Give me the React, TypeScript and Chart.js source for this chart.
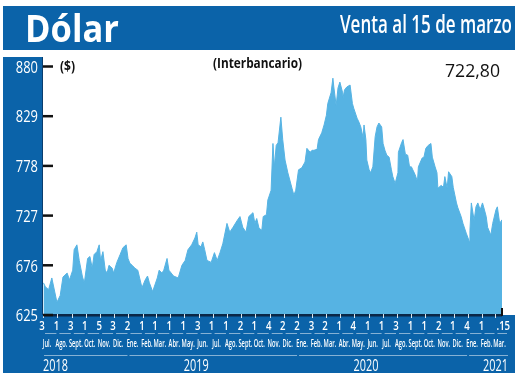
import { useEffect, useRef } from 'react';
import { Chart, registerables } from 'chart.js';

Chart.register(...registerables);

// ---------- data ----------
const dates: string[] = [
  '2018-07-02','2018-07-06','2018-07-13','2018-07-20','2018-07-31','2018-08-07','2018-08-13','2018-08-22','2018-08-27',
  '2018-09-03','2018-09-06','2018-09-12','2018-09-17','2018-09-24','2018-09-28','2018-10-05','2018-10-10','2018-10-15',
  '2018-10-19','2018-10-25','2018-10-30','2018-11-02','2018-11-07','2018-11-12','2018-11-16','2018-11-20','2018-11-27',
  '2018-11-30','2018-12-07','2018-12-14','2018-12-20','2018-12-27','2018-12-31','2019-01-04','2019-01-09','2019-01-15',
  '2019-01-21','2019-01-30','2019-02-06','2019-02-11','2019-02-15','2019-02-22','2019-03-04','2019-03-08','2019-03-14',
  '2019-03-18','2019-03-25','2019-03-29','2019-04-08','2019-04-18','2019-04-26','2019-05-03','2019-05-09','2019-05-17',
  '2019-05-24','2019-05-28','2019-05-31','2019-06-06','2019-06-10','2019-06-14','2019-06-19','2019-06-28','2019-07-05',
  '2019-07-11','2019-07-17','2019-07-23','2019-08-01','2019-08-07','2019-08-14','2019-08-23','2019-08-29','2019-09-04',
  '2019-09-11','2019-09-17','2019-09-26','2019-09-30','2019-10-04','2019-10-09','2019-10-15','2019-10-18','2019-10-25',
  '2019-10-28','2019-11-04','2019-11-08','2019-11-11','2019-11-15','2019-11-19','2019-11-25','2019-11-29','2019-12-04',
  '2019-12-10','2019-12-19','2019-12-23','2019-12-27','2020-01-02','2020-01-09','2020-01-16','2020-01-20','2020-01-27',
  '2020-01-31','2020-02-04','2020-02-11','2020-02-14','2020-02-21','2020-02-26','2020-03-02','2020-03-05','2020-03-12',
  '2020-03-16','2020-03-18','2020-03-23','2020-03-27','2020-03-31','2020-04-06','2020-04-07','2020-04-10','2020-04-15',
  '2020-04-22','2020-04-27','2020-04-30','2020-05-07','2020-05-11','2020-05-15','2020-05-20','2020-05-22','2020-05-26',
  '2020-05-28','2020-06-02','2020-06-05','2020-06-10','2020-06-15','2020-06-19','2020-06-23','2020-06-29','2020-07-02',
  '2020-07-06','2020-07-10','2020-07-15','2020-07-20','2020-07-23','2020-07-28','2020-08-03','2020-08-04','2020-08-11',
  '2020-08-14','2020-08-19','2020-08-24','2020-08-28','2020-09-01','2020-09-04','2020-09-09','2020-09-14','2020-09-16',
  '2020-09-24','2020-09-28','2020-10-02','2020-10-07','2020-10-13','2020-10-16','2020-10-22','2020-10-26','2020-10-28',
  '2020-11-04','2020-11-09','2020-11-12','2020-11-17','2020-11-20','2020-11-27','2020-11-30','2020-12-07','2020-12-10',
  '2020-12-17','2020-12-21','2020-12-28','2021-01-04','2021-01-05','2021-01-08','2021-01-14','2021-01-18','2021-01-22',
  '2021-01-27','2021-02-01','2021-02-04','2021-02-09','2021-02-12','2021-02-19','2021-02-23','2021-03-02','2021-03-05',
  '2021-03-10','2021-03-15',
];

const values: number[] = [
  658,654,651,663,638,645,664,668,661,
  671,692,697,681,664,658,683,685,673,
  687,690,697,681,690,671,668,676,673,
  668,679,687,694,697,683,678,676,673,
  671,653,661,665,658,649,663,671,668,
  671,683,671,665,663,676,681,692,697,
  704,710,697,695,700,692,681,679,689,
  681,689,698,719,710,715,722,726,715,
  710,726,730,719,724,714,712,726,728,
  743,753,801,777,799,802,828,805,784,
  771,755,748,753,774,776,782,796,792,
  794,794,795,805,812,820,830,842,853,
  868,859,840,858,864,853,848,856,859,
  861,842,837,827,823,818,807,820,805,
  784,774,771,777,808,818,822,818,801,
  794,789,787,774,767,760,771,792,802,
  805,790,789,777,777,774,769,762,777,
  786,787,796,799,801,787,777,771,755,
  758,756,767,755,772,767,756,740,735,
  726,719,709,700,712,740,722,736,740,
  733,740,735,726,715,707,719,733,736,
  719,722.8,
];

const yTicks: number[] = [625, 676, 727, 778, 829, 880];
const monthNames: string[] = [
  'Jul.','Ago.','Sept.','Oct.','Nov.','Dic.',
  'Ene.','Feb.','Mar.','Abr.','May.','Jun.','Jul.','Ago.','Sept.','Oct.','Nov.','Dic.',
  'Ene.','Feb.','Mar.','Abr.','May.','Jun.','Jul.','Ago.','Sept.','Oct.','Nov.','Dic.',
  'Ene.','Feb.','Mar.',
];
const dayLabels: string[] = [
  '3','1','3','1','5','3',
  '2','1','1','1','1','3','1','1','2','1','4','2',
  '2','3','2','1','4','1','1','3','1','1','2','1',
  '4','1','.15',
];
const years: string[] = ['2018', '2019', '2020', '2021'];

const titleText = 'Dólar';
const subtitleText = 'Venta al 15 de marzo';
const unitText = '($)';
const sourceText = '(Interbancario)';
const lastValueText = '722,80';

// ---------- helpers ----------
const START = Date.UTC(2018, 6, 1);
const END = Date.UTC(2021, 2, 15);
const DAY = 86400000;
const dayOf = (iso: string) => {
  const [y, m, d] = iso.split('-').map(Number);
  return (Date.UTC(y, m - 1, d) - START) / DAY;
};
const monthStartDays = monthNames.map((_, i) => (Date.UTC(2018, 6 + i, 1) - START) / DAY);
const yearStartDays = years.map((y) => (Date.UTC(Number(y), 0, 1) - START) / DAY);
const maxDay = (END - START) / DAY;

const BLUE = '#0b63a9';
const FILL = '#56b3e3';
const FONT = '"Open Sans", "DejaVu Sans", sans-serif';

function drawText(
  ctx: CanvasRenderingContext2D, text: string, x: number, y: number, font: string,
  color: string, align: CanvasTextAlign, opts: { width?: number; sx?: number } = {}
) {
  ctx.save();
  ctx.font = font;
  ctx.fillStyle = color;
  ctx.textAlign = align;
  ctx.textBaseline = 'alphabetic';
  const w = ctx.measureText(text).width;
  const s = opts.width ? opts.width / w : opts.sx ?? 1;
  ctx.translate(x, y);
  ctx.scale(s, 1);
  ctx.fillText(text, 0, 0);
  ctx.restore();
}

const decor = {
  id: 'decor',
  beforeDraw(chart: any) {
    const { ctx, chartArea: a } = chart;
    ctx.save();
    ctx.fillStyle = '#ffffff';
    ctx.fillRect(0, 0, chart.width, chart.height);
    ctx.fillStyle = BLUE;
    ctx.fillRect(3, 6, 512, 44);
    ctx.fillRect(3, 57, a.left - 3, 316);
    ctx.fillRect(3, a.bottom, 512, 373 - a.bottom);
    ctx.restore();
    drawText(ctx, titleText, 25, 42, `bold 38px ${FONT}`, '#ffffff', 'left', { width: 94 });
    drawText(ctx, subtitleText, 512, 33, `600 26px ${FONT}`, '#ffffff', 'right', { width: 172 });
  },
  afterDatasetsDraw(chart: any) {
    const { ctx, chartArea: a, scales } = chart;
    const xs = scales.x;
    const ys = scales.y;
    ctx.save();
    // left strip edge
    ctx.fillStyle = '#0a3e6e';
    ctx.fillRect(a.left - 1, 57, 1, a.bottom - 57);
    // bottom axis line
    ctx.fillStyle = '#0b2747';
    ctx.fillRect(a.left, a.bottom - 1, a.right - a.left, 2.5);
    // month ticks
    ctx.fillStyle = 'rgba(255,255,255,0.85)';
    monthStartDays.forEach((d) => {
      const px = Math.round(xs.getPixelForValue(d));
      ctx.fillRect(px, a.bottom - 1, 1, 4);
    });
    // end tick
    ctx.fillStyle = '#111111';
    ctx.fillRect(a.right - 1, a.bottom - 7, 2, 8);
    // y ticks
    yTicks.forEach((v) => {
      const py = ys.getPixelForValue(v);
      ctx.fillRect(a.left, py - 1.25, 10, 2.5);
    });
    ctx.restore();

    yTicks.forEach((v) => {
      const py = ys.getPixelForValue(v);
      drawText(ctx, String(v), 38, py + 6.2, `17px ${FONT}`, '#ffffff', 'right', { sx: 0.76 });
    });

    // underlines below day numbers
    ctx.save();
    ctx.strokeStyle = 'rgba(255,255,255,0.5)';
    ctx.lineWidth = 1;
    monthStartDays.forEach((d, i) => {
      const px = xs.getPixelForValue(d);
      const next = i + 1 < monthStartDays.length ? xs.getPixelForValue(monthStartDays[i + 1]) : a.right + 6;
      ctx.beginPath();
      ctx.moveTo(px + 2, 333.5);
      ctx.lineTo(next - 1, 333.5);
      ctx.stroke();
    });
    // year lines
    yearStartDays.forEach((d, i) => {
      const x0 = Math.max(a.left, xs.getPixelForValue(d)) + 1;
      const x1 = i + 1 < yearStartDays.length ? xs.getPixelForValue(yearStartDays[i + 1]) - 1 : a.right + 6;
      ctx.beginPath();
      ctx.moveTo(x0, 355.5);
      ctx.lineTo(x1, 355.5);
      ctx.stroke();
    });
    ctx.restore();

    monthStartDays.forEach((d, i) => {
      const px = xs.getPixelForValue(d);
      const lbl = dayLabels[i];
      if (lbl.startsWith('.')) {
        drawText(ctx, lbl, px + 1, 329.5, `600 12px ${FONT}`, '#ffffff', 'left', { sx: 0.8 });
      } else {
        drawText(ctx, lbl, px - 1, 329.5, `600 12px ${FONT}`, '#ffffff', 'center', { sx: 0.8 });
      }
      drawText(ctx, monthNames[i], px + 4, 347, `600 11px ${FONT}`, '#ffffff', 'center', { sx: 0.52 });
    });

    // years
    const yearFont = `16px ${FONT}`;
    const ySx = 0.68;
    years.forEach((y, i) => {
      const s = Math.max(a.left, xs.getPixelForValue(yearStartDays[i]));
      const e = i + 1 < yearStartDays.length ? xs.getPixelForValue(yearStartDays[i + 1]) : a.right + 6;
      if (i === 0) drawText(ctx, y, a.left, 371, yearFont, '#ffffff', 'left', { sx: ySx });
      else if (i === years.length - 1) drawText(ctx, y, e, 371, yearFont, '#ffffff', 'right', { sx: ySx });
      else drawText(ctx, y, s + (e - s) * 0.4, 371, yearFont, '#ffffff', 'center', { sx: ySx });
    });

    // annotations
    drawText(ctx, unitText, 60, 71, `bold 15px ${FONT}`, '#111111', 'left', { width: 15 });
    drawText(ctx, sourceText, 213, 68, `bold 14px ${FONT}`, '#111111', 'left', { width: 89 });
    drawText(ctx, lastValueText, 500, 77, `19px ${FONT}`, '#111111', 'right', { width: 55 });
  },
};

export default function App() {
  const ref = useRef<HTMLCanvasElement | null>(null);
  useEffect(() => {
    if (!ref.current) return;
    const points = dates.map((d, i) => ({ x: dayOf(d), y: values[i] }));
    const chart = new Chart(ref.current, {
      type: 'line',
      data: {
        datasets: [
          {
            data: points,
            fill: 'start',
            backgroundColor: FILL,
            borderColor: FILL,
            borderWidth: 1,
            pointRadius: 0,
            tension: 0,
          },
        ],
      },
      options: {
        animation: false,
        responsive: false,
        maintainAspectRatio: false,
        devicePixelRatio: 1,
        layout: { padding: { left: 43, right: 18, top: 66.5, bottom: 63 } },
        scales: {
          x: { type: 'linear', min: 0, max: maxDay, display: false },
          y: { type: 'linear', min: 625, max: 880, display: false },
        },
        plugins: { legend: { display: false }, tooltip: { enabled: false } },
      },
      plugins: [decor],
    } as any);
    return () => chart.destroy();
  }, []);
  return (
    <div style={{ position: 'fixed', left: 0, top: 0, width: 520, height: 378, background: '#fff' }}>
      <canvas ref={ref} width={520} height={378} style={{ display: 'block', width: 520, height: 378 }} />
    </div>
  );
}
